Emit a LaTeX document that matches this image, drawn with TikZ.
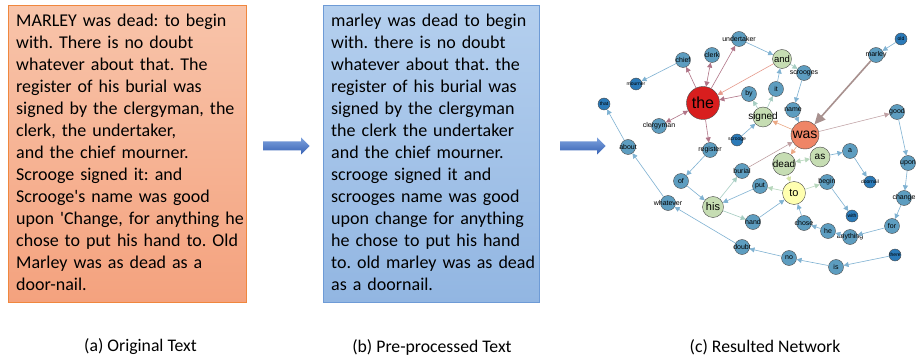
\documentclass[tikz,border=0pt]{standalone}
\usepackage{fontspec}
\setmainfont{Carlito}[Ligatures=TeXOff]
\newfontfamily\netfont{Liberation Sans}
\usetikzlibrary{arrows.meta}
\frenchspacing
\definecolor{boxAtop}{HTML}{F8C4AA}
\definecolor{boxAbot}{HTML}{F4A27E}
\definecolor{boxAline}{HTML}{F0873E}
\definecolor{boxBtop}{HTML}{B4CFEE}
\definecolor{boxBbot}{HTML}{92B6E2}
\definecolor{boxBline}{HTML}{6E9BD6}
\definecolor{arrtop}{HTML}{7DA2DE}
\definecolor{arrbot}{HTML}{3862B4}
\definecolor{nblue}{HTML}{5D9DC0}
\definecolor{ndark}{HTML}{2B7AB8}
\definecolor{ngreen}{HTML}{C6DDB3}
\definecolor{nyellow}{HTML}{FFFFB0}
\definecolor{nred}{HTML}{D81E1E}
\definecolor{nwas}{HTML}{EF8566}
\definecolor{nbord}{HTML}{4A4A4A}
\definecolor{cthe}{HTML}{B07487}
\definecolor{cblue}{HTML}{7FB2D2}
\definecolor{cgreen}{HTML}{A6CDC2}
\definecolor{cpeach}{HTML}{EBA884}
\definecolor{cmauve}{HTML}{BFA0A3}
\definecolor{csalmon}{HTML}{E69A8C}
\definecolor{cyel}{HTML}{D6E4A6}
\definecolor{clg}{HTML}{B7D7BC}
\definecolor{cbig}{HTML}{A8918F}
\begin{document}
\begin{tikzpicture}[x=1pt,y=-1pt,
  nd/.style={circle,draw=nbord,line width=0.4pt,inner sep=0pt},
  bn/.style={nd,fill=nblue,minimum size=15pt,label={[lbl]center:#1}},
  dn/.style={nd,fill=ndark,minimum size=12pt,label={[slbl]center:#1}},
  gn/.style={nd,fill=ngreen},
  lbl/.style={inner sep=0pt,font=\netfont\fontsize{7}{8}\selectfont},
  slbl/.style={inner sep=0pt,font=\netfont\fontsize{5}{6}\selectfont},
  ed/.style={line width=0.6pt,-{Triangle[length=5pt,width=5pt]}},
  bed/.style={line width=0.6pt,{Triangle[length=5pt,width=5pt]}-{Triangle[length=5pt,width=5pt]}},
  txtbox/.style={anchor=north west,align=left,text width=232pt,inner sep=0pt,font=\fontsize{18}{22}\selectfont},
  captxt/.style={inner sep=0pt,font=\fontsize{17.7}{20}\selectfont},
  blockarrow/.style={top color=arrtop,bottom color=arrbot,draw=none}
]
\useasboundingbox (0,0) rectangle (917,358);
\fill[white] (0,0) rectangle (917,358);

% text boxes
\node[draw=boxAline,line width=1pt,top color=boxAtop,bottom color=boxAbot,minimum width=238pt,minimum height=296pt,inner sep=0pt] (boxa) at (127,154) {};
\node[txtbox] (texta) at (16,14) {MARLEY was dead: to begin\\with. There is no doubt\\whatever about that. The\\register of his burial was\\signed by the clergyman, the\\clerk, the undertaker,\\and the chief mourner.\\Scrooge signed it: and\\Scrooge's name was good\\upon 'Change, for anything he\\chose to put his hand to. Old\\Marley was as dead as a\\door-nail.};

\node[draw=boxBline,line width=1pt,top color=boxBtop,bottom color=boxBbot,minimum width=216pt,minimum height=296pt,inner sep=0pt] (boxb) at (431,154) {};
\node[txtbox] (textb) at (331,14) {marley was dead to begin\\with. there is no doubt\\whatever about that. the\\register of his burial was\\signed by the clergyman\\the clerk the undertaker\\and the chief mourner.\\scrooge signed it and\\scrooges name was good\\upon change for anything\\he chose to put his hand\\to. old marley was as dead\\as a doornail.};

% block arrows
\shade[blockarrow] (263,141.5) -- (301,141.5) -- (301,137.5) -- (309.5,146) -- (301,154.5) -- (301,150.5) -- (263,150.5) -- cycle;
\shade[blockarrow] (560,141.5) -- (597,141.5) -- (597,137.5) -- (605.5,146) -- (597,154.5) -- (597,150.5) -- (560,150.5) -- cycle;

% captions
\node[captxt] (capa) at (140.5,347) {(a) Original Text};
\node[captxt] (capb) at (432,347) {(b) Pre-processed Text};
\node[captxt] (capc) at (765,347) {(c) Resulted Network};

% network nodes
\node[nd,fill=nred,minimum size=33pt,label={[inner sep=0pt,font=\netfont\fontsize{16}{18}\selectfont]center:the}] (the) at (703,103) {};
\node[nd,fill=nwas,minimum size=28pt,label={[inner sep=0pt,font=\netfont\fontsize{14}{16}\selectfont]center:was}] (was) at (805,135) {};
\node[gn,minimum size=20pt,label={[inner sep=0pt,font=\netfont\fontsize{10}{12}\selectfont]center:signed}] (signed) at (763,117) {};
\node[gn,minimum size=19pt,label={[inner sep=0pt,font=\netfont\fontsize{9.5}{11}\selectfont]center:and}] (and) at (782,59) {};
\node[gn,minimum size=20pt,label={[inner sep=0pt,font=\netfont\fontsize{10}{12}\selectfont]center:as}] (as) at (820,157) {};
\node[gn,minimum size=23pt,label={[inner sep=0pt,font=\netfont\fontsize{10}{12}\selectfont]center:dead}] (dead) at (784,164) {};
\node[gn,minimum size=21pt,label={[inner sep=0pt,font=\netfont\fontsize{11}{13}\selectfont]center:his}] (his) at (713,207) {};
\node[nd,fill=nyellow,minimum size=23pt,label={[inner sep=0pt,font=\netfont\fontsize{11}{13}\selectfont]center:to}] (to) at (794,193) {};

\node[bn=chief] (chief) at (683,60) {};
\node[bn=clerk] (clerk) at (712,55) {};
\node[bn=undertaker] (undertaker) at (739,39) {};
\node[bn=by] (by) at (749,94) {};
\node[bn=clergyman] (clergyman) at (659,126) {};
\node[bn=register] (register) at (710,150) {};
\node[bn=about] (about) at (628,147) {};
\node[bn=scrooges] (scrooges) at (804,73) {};
\node[bn=it] (it) at (776,89) {};
\node[bn=name] (name) at (793,110) {};
\node[bn=a] (a) at (850,151) {};
\node[bn=marley] (marley) at (876,55) {};
\node[bn=good] (good) at (897,112) {};
\node[bn=upon] (upon) at (908,163) {};
\node[bn=change] (change) at (904,198) {};
\node[bn=for] (for) at (892,226) {};
\node[bn=anything] (anything) at (850,237) {};
\node[bn=is] (is) at (836,267) {};
\node[bn=burial] (burial) at (742,171) {};
\node[bn=put] (put) at (760,186) {};
\node[bn=begin] (begin) at (827,182) {};
\node[bn=hand] (hand) at (753,222) {};
\node[bn=chose] (chose) at (804,223) {};
\node[bn=he] (he) at (828,231) {};
\node[bn=doubt] (doubt) at (742,247) {};
\node[bn=no] (no) at (789,258) {};
\node[bn=of] (of) at (681,181) {};
\node[bn=whatever] (whatever) at (668,203) {};

\node[dn=mourner] (mourner) at (636,84) {};
\node[dn=scrooge] (scrooge) at (737,140) {};
\node[dn=that] (that) at (604,104) {};
\node[dn=old] (old) at (901,39) {};
\node[dn=doornail] (doornail) at (870,182) {};
\node[dn=with] (with) at (852,216) {};
\node[dn=there] (there) at (895,255) {};

% edges from "the"
\draw[ed,cthe] (the) -- (chief);
\draw[bed,cthe] (the) -- (clerk);
\draw[ed,cthe] (the) -- (undertaker);
\draw[bed,cthe] (the) -- (clergyman);
\draw[ed,cthe] (the) -- (register);
\draw[ed,cthe] (by) -- (the);
\draw[ed,csalmon] (and) -- (the);

% blue edges
\draw[ed,cblue] (undertaker) -- (and);
\draw[ed,cblue] (chief) -- (mourner);
\draw[ed,cblue] (whatever) -- (about);
\draw[ed,cblue] (about) -- (that);
\draw[ed,cblue] (doubt) -- (whatever);
\draw[ed,cblue] (no) -- (doubt);
\draw[ed,cblue] (is) -- (no);
\draw[ed,cblue] (there) -- (is);
\draw[ed,cblue] (register) -- (of);
\draw[ed,cblue] (of) -- (his);
\draw[ed,cblue] (put) -- (his);
\draw[ed,cblue] (hand) -- (to);
\draw[ed,cblue] (begin) -- (with);
\draw[ed,cblue] (chose) -- (to);
\draw[ed,cblue] (he) -- (chose);
\draw[ed,cblue] (anything) -- (he);
\draw[ed,cblue] (for) -- (anything);
\draw[ed,cblue] (change) -- (for);
\draw[ed,cblue] (upon) -- (change);
\draw[ed,cblue] (good) -- (upon);
\draw[ed,cblue] (old) -- (marley);
\draw[ed,cblue] (name) -- (was);
\draw[ed,cblue] (scrooges) -- (name);
\draw[ed,cblue] (it) -- (and);
\draw[ed,cblue] (scrooge) -- (signed);
\draw[ed,cblue] (as) -- (a);
\draw[ed,cblue] (a) -- (doornail);

% green edges
\draw[ed,cgreen] (his) -- (burial);
\draw[ed,cgreen] (his) -- (hand);
\draw[ed,cgreen] (and) -- (scrooges);
\draw[ed,cgreen] (signed) -- (it);
\draw[ed,cgreen] (signed) -- (by);
\draw[bed,clg] (dead) -- (as);
\draw[ed,clg] (to) -- (put);
\draw[ed,clg] (to) -- (begin);
\draw[ed,cyel] (dead) -- (to);

% edges of "was"
\draw[ed,cmauve] (burial) -- (was);
\draw[ed,cmauve] (was) -- (good);
\draw[ed,cpeach] (was) -- (signed);
\draw[ed,cpeach] (was) -- (dead);
\draw[line width=1.6pt,cbig,-{Triangle[length=11pt,width=10pt]}] (marley) -- (was);
\end{tikzpicture}
\end{document}
